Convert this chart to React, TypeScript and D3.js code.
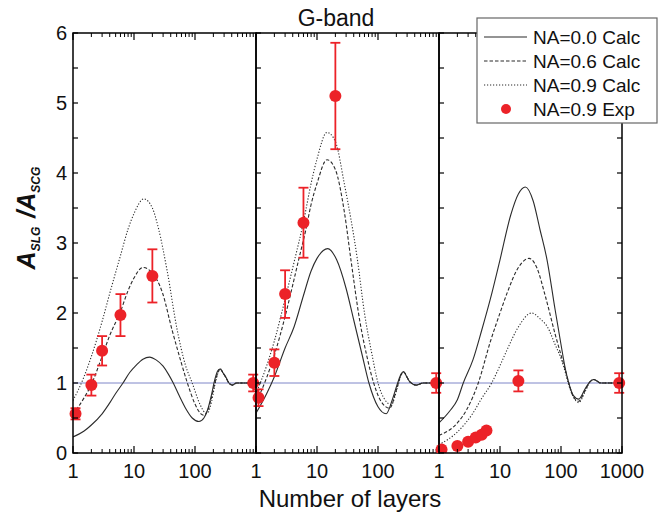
import React from "react";
import * as d3 from "d3";

type Pt = [number, number];

// ---------- data ----------
const p1Solid: Pt[] = [[1,0.23],[1.5,0.31],[2,0.40],[3,0.56],[4.1,0.73],[5,0.85],[6.6,1.0],[8.5,1.15],[11,1.26],[14,1.34],[18,1.37],[23,1.33],[30,1.24],[37,1.12],[44,1.0],[55,0.82],[70,0.64],[90,0.5],[116,0.45],[140,0.5],[160,0.61],[185,0.82],[210,1.04],[235,1.17],[257,1.2],[290,1.14],[318,1.09],[360,1.0],[410,0.97],[480,1.0],[1000,1.0]];
const p1Dashed: Pt[] = [[1,0.55],[1.5,0.78],[2,0.98],[3,1.38],[4,1.68],[6,2.02],[8,2.32],[10,2.5],[14,2.65],[20,2.57],[29,2.3],[42,1.76],[60,1.28],[75,1.0],[100,0.7],[125,0.56],[140,0.54],[160,0.6],[185,0.78],[215,1.02],[240,1.16],[260,1.2],[290,1.14],[320,1.08],[360,1.0],[410,0.97],[480,1.0],[1000,1.0]];
const p1Dotted: Pt[] = [[1,0.75],[1.5,1.08],[2,1.38],[3,1.88],[4,2.28],[6,2.82],[8,3.2],[10,3.42],[14.5,3.63],[20,3.5],[25,3.22],[35,2.6],[51,1.76],[70,1.25],[90,1.0],[120,0.7],[145,0.58],[160,0.57],[185,0.72],[215,1.0],[245,1.17],[265,1.2],[290,1.14],[320,1.08],[360,1.0],[410,0.97],[480,1.0],[1000,1.0]];

const p2Solid: Pt[] = [[1,0.57],[1.5,0.85],[2,1.09],[3,1.5],[4.2,1.8],[6,2.25],[8,2.6],[10,2.78],[15,2.92],[21,2.76],[30,2.35],[40,1.9],[55,1.4],[71,1.0],[100,0.66],[136,0.56],[170,0.75],[210,1.0],[240,1.13],[263,1.16],[300,1.08],[330,1.02],[425,0.97],[550,1.0],[1000,1.0]];
const p2Dashed: Pt[] = [[1,0.72],[1.5,1.08],[2,1.4],[3,1.95],[4,2.4],[5,2.76],[6.6,3.2],[8,3.55],[10,3.85],[14.6,4.19],[20,4.05],[28,3.45],[36,2.76],[50,1.9],[65,1.4],[85,1.0],[110,0.75],[155,0.64],[200,0.9],[240,1.12],[263,1.16],[300,1.08],[330,1.02],[425,0.97],[550,1.0],[1000,1.0]];
const p2Dotted: Pt[] = [[1,0.85],[1.5,1.25],[2,1.6],[3,2.2],[4.3,2.76],[6,3.3],[8,3.85],[10,4.2],[14.6,4.58],[20,4.45],[28,3.85],[46,2.76],[60,2.0],[80,1.4],[100,1.0],[130,0.76],[165,0.69],[210,0.95],[245,1.13],[263,1.16],[300,1.08],[330,1.02],[425,0.97],[550,1.0],[1000,1.0]];

const p3Solid: Pt[] = [[1,0.43],[1.5,0.6],[2,0.76],[2.5,1.0],[3.6,1.33],[5,1.75],[6.9,2.19],[10,2.76],[15,3.4],[20,3.7],[26,3.8],[35,3.6],[45,3.2],[59,2.76],[80,2.05],[100,1.55],[118,1.2],[134,1.0],[160,0.82],[195,0.77],[250,0.92],[300,1.02],[345,1.05],[450,1.0],[1000,1.0]];
const p3Dashed: Pt[] = [[1,0.25],[2,0.43],[2.85,0.62],[4.4,1.0],[7,1.6],[10,2.0],[13,2.28],[20,2.65],[30,2.78],[40,2.65],[55,2.25],[80,1.7],[100,1.4],[118,1.18],[134,1.0],[160,0.8],[195,0.74],[250,0.9],[300,1.02],[345,1.05],[450,1.0],[1000,1.0]];
const p3Dotted: Pt[] = [[1,0.12],[2,0.3],[3.6,0.57],[5,0.78],[7.3,1.0],[10,1.25],[13,1.47],[20,1.8],[33,2.0],[45,1.92],[60,1.8],[80,1.55],[100,1.35],[118,1.15],[134,0.97],[160,0.8],[195,0.72],[250,0.88],[300,1.02],[345,1.05],[450,1.0],[1000,1.0]];

// experimental [x, value, error]
const exp1: [number, number, number][] = [[1.1,0.56,0.08],[2,0.97,0.15],[3,1.46,0.21],[6,1.97,0.3],[20,2.53,0.38],[900,1.0,0.12]];
const exp2: [number, number, number][] = [[1.1,0.79,0.12],[2,1.29,0.19],[3,2.27,0.34],[6,3.29,0.5],[20,5.1,0.76],[900,1.0,0.14]];
const exp3: [number, number, number][] = [[1.1,0.05,0],[2,0.1,0],[3,0.16,0],[4,0.22,0],[5,0.26,0],[6,0.32,0],[20,1.03,0.15],[900,1.0,0.14]];

const yTicks = [0, 1, 2, 3, 4, 5, 6];
const xTickLabels12 = [1, 10, 100];
const xTickLabels3 = [1, 10, 100, 1000];
const legendLabels = ["NA=0.0 Calc", "NA=0.6 Calc", "NA=0.9 Calc", "NA=0.9 Exp"];

const panels = [
  { solid: p1Solid, dashed: p1Dashed, dotted: p1Dotted, exp: exp1, labels: xTickLabels12 },
  { solid: p2Solid, dashed: p2Dashed, dotted: p2Dotted, exp: exp2, labels: xTickLabels12 },
  { solid: p3Solid, dashed: p3Dashed, dotted: p3Dotted, exp: exp3, labels: xTickLabels3 },
];

// ---------- layout ----------
const W = 666, H = 519;
const left0 = 73, panelW = 183;
const top = 33, bottom = 453;
const FONT = "'Liberation Sans', Arial, Helvetica, sans-serif";
const RED = "#ec2228";
const LINE = "#2b2b2b";

const yScale = d3.scaleLinear().domain([0, 6]).range([bottom, top]);

export default function App() {
  const minor: number[] = [];
  [1, 10, 100].forEach((d) => { for (let i = 2; i <= 9; i++) minor.push(d * i); });
  const major = [1, 10, 100, 1000];
  const yMinor = d3.range(0, 6.01, 0.5);

  return (
    <svg width={W} height={H} style={{ display: "block", position: "absolute", left: 0, top: 0 }} fontFamily={FONT}>
      <rect width={W} height={H} fill="white" />
      <defs>
        {panels.map((_, i) => (
          <clipPath id={`clip${i}`} key={i}>
            <rect x={left0 + i * panelW} y={top} width={panelW} height={bottom - top} />
          </clipPath>
        ))}
        <clipPath id="clipAll">
          <rect x={0} y={top} width={W} height={bottom - top} />
        </clipPath>
      </defs>

      {/* reference line y=1 */}
      <line x1={left0} x2={left0 + 3 * panelW} y1={yScale(1)} y2={yScale(1)} stroke="#7f86c8" strokeWidth={1} />

      {panels.map((p, i) => {
        const L = left0 + i * panelW;
        const xs = d3.scaleLog().domain([1, 1000]).range([L, L + panelW]);
        const line = d3.line<Pt>().x((d) => xs(d[0])).y((d) => yScale(d[1])).curve(d3.curveMonotoneX);
        return (
          <g key={i}>
            <g clipPath={`url(#clip${i})`} fill="none">
              <path d={line(p.solid) || ""} stroke={LINE} strokeWidth={1.1} />
              <path d={line(p.dashed) || ""} stroke={LINE} strokeWidth={1.1} strokeDasharray="3.5,2" />
              <path d={line(p.dotted) || ""} stroke={LINE} strokeWidth={1.1} strokeDasharray="1.2,1.8" />
            </g>
            <g clipPath="url(#clipAll)">
              {p.exp.map((e, j) => (
                <g key={j}>
                  {e[2] > 0 && (
                    <g stroke={RED} strokeWidth={1.8}>
                      <line x1={xs(e[0])} x2={xs(e[0])} y1={yScale(e[1] - e[2])} y2={yScale(e[1] + e[2])} />
                      <line x1={xs(e[0]) - 5} x2={xs(e[0]) + 5} y1={yScale(e[1] - e[2])} y2={yScale(e[1] - e[2])} />
                      <line x1={xs(e[0]) - 5} x2={xs(e[0]) + 5} y1={yScale(e[1] + e[2])} y2={yScale(e[1] + e[2])} />
                    </g>
                  )}
                  <circle cx={xs(e[0])} cy={yScale(e[1])} r={6} fill={RED} />
                </g>
              ))}
            </g>
            {/* x ticks */}
            {major.map((m) => (
              <g key={"M" + m} stroke="black" strokeWidth={1.2}>
                <line x1={xs(m)} x2={xs(m)} y1={bottom} y2={bottom - 7} />
                <line x1={xs(m)} x2={xs(m)} y1={top} y2={top + 7} />
              </g>
            ))}
            {minor.map((m) => (
              <g key={"m" + m} stroke="black" strokeWidth={1}>
                <line x1={xs(m)} x2={xs(m)} y1={bottom} y2={bottom - 4} />
                <line x1={xs(m)} x2={xs(m)} y1={top} y2={top + 4} />
              </g>
            ))}
            {/* y ticks on left of every panel */}
            {yMinor.map((v) => (
              <line key={"y" + v} x1={L} x2={L + 5} y1={yScale(v)} y2={yScale(v)} stroke="black" strokeWidth={1.2} />
            ))}
            {i === 2 && yMinor.map((v) => (
              <line key={"yr" + v} x1={L + panelW} x2={L + panelW - 5} y1={yScale(v)} y2={yScale(v)} stroke="black" strokeWidth={1.2} />
            ))}
            <rect x={L} y={top} width={panelW} height={bottom - top} fill="none" stroke="black" strokeWidth={1.5} />
            {p.labels.map((t) => (
              <text key={"t" + t} x={xs(t)} y={478} fontSize={20} textAnchor="middle" fill="#111">{t}</text>
            ))}
          </g>
        );
      })}

      {/* y tick labels */}
      {yTicks.map((t) => (
        <text key={t} x={67} y={yScale(t) + 7} fontSize={20} textAnchor="end" fill="#111">{t}</text>
      ))}

      {/* title */}
      <text x={336} y={26} fontSize={23} textAnchor="middle" fill="#111">G-band</text>

      {/* x label */}
      <text x={350} y={507} fontSize={24} textAnchor="middle" fill="#111">Number of layers</text>

      {/* y label */}
      <text transform="translate(35,218) rotate(-90)" textAnchor="middle" fontSize={25} fontWeight="bold" fontStyle="italic" fill="#111">
        <tspan>A</tspan>
        <tspan fontSize={12} dy={5}>SLG</tspan>
        <tspan dy={-5} dx={9}>/A</tspan>
        <tspan fontSize={12} dy={5}>SCG</tspan>
      </text>

      {/* legend */}
      <g>
        <rect x={477} y={18} width={180} height={105} fill="white" stroke="#666" strokeWidth={1.2} />
        {legendLabels.map((lab, i) => {
          const yy = 37 + i * 24;
          return (
            <g key={lab}>
              {i === 0 && <line x1={484} x2={527} y1={yy} y2={yy} stroke={LINE} strokeWidth={1.1} />}
              {i === 1 && <line x1={484} x2={527} y1={yy} y2={yy} stroke={LINE} strokeWidth={1.1} strokeDasharray="3.5,2" />}
              {i === 2 && <line x1={484} x2={527} y1={yy} y2={yy} stroke={LINE} strokeWidth={1.1} strokeDasharray="1.2,1.8" />}
              {i === 3 && <circle cx={506} cy={yy} r={5} fill={RED} />}
              <text x={533} y={yy + 7} fontSize={19} fill="#111">{lab}</text>
            </g>
          );
        })}
      </g>
    </svg>
  );
}
